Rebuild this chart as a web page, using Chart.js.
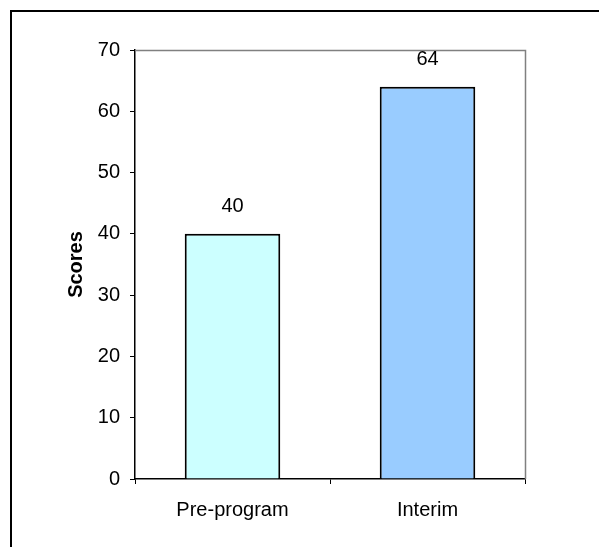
<!DOCTYPE html>
<html>
<head>
<meta charset="utf-8">
<script src="https://cdn.jsdelivr.net/npm/chart.js@4/dist/chart.umd.min.js"></script>
<style>
  body { margin: 0; background: #fff; }
  canvas { display: block; }
</style>
</head>
<body>
<canvas id="scores-chart" width="599" height="547"></canvas>
<script>
// chart data
const categories = ['Pre-program', 'Interim'];
const scores = [40, 64];
const barColors = ['#CCFFFF', '#99CCFF'];
const yTicks = [0, 10, 20, 30, 40, 50, 60, 70];

const FONT = 'Arial, "Liberation Sans", sans-serif';
const FONT_SIZE = 20;

// outer frame + grey plot border on top/right
const framePlugin = {
  id: 'frame',
  beforeDraw(chart) {
    const ctx = chart.ctx;
    ctx.save();
    ctx.fillStyle = '#000';
    ctx.fillRect(10, 10, chart.width - 10, 2);
    ctx.fillRect(10, 10, 2, chart.height - 10);
    ctx.restore();
  },
  beforeDatasetsDraw(chart) {
    const { ctx, chartArea: a } = chart;
    ctx.save();
    ctx.strokeStyle = '#808080';
    ctx.lineWidth = 1.5;
    ctx.beginPath();
    ctx.moveTo(a.left, a.top + 0.5);
    ctx.lineTo(a.right + 0.5, a.top + 0.5);
    ctx.lineTo(a.right + 0.5, a.bottom);
    ctx.stroke();
    ctx.restore();
  }
};

// value labels above bars
const valueLabels = {
  id: 'valueLabels',
  afterDatasetsDraw(chart) {
    const ctx = chart.ctx;
    const meta = chart.getDatasetMeta(0);
    ctx.save();
    ctx.fillStyle = '#000';
    ctx.font = FONT_SIZE + 'px ' + FONT;
    ctx.textAlign = 'center';
    ctx.textBaseline = 'middle';
    meta.data.forEach((bar, i) => {
      ctx.fillText(String(scores[i]), bar.x, bar.y - 27);
    });
    ctx.restore();
  }
};

const ctx = document.getElementById('scores-chart').getContext('2d');
const chart = new Chart(ctx, {
  type: 'bar',
  data: {
    labels: categories,
    datasets: [{
      data: scores,
      backgroundColor: barColors,
      borderColor: '#000',
      borderWidth: 2,
      categoryPercentage: 1,
      barPercentage: 0.49
    }]
  },
  options: {
    responsive: false,
    animation: false,
    layout: { padding: { top: 50, right: 74, left: 0, bottom: 0 } },
    plugins: {
      legend: { display: false },
      tooltip: { enabled: false }
    },
    scales: {
      x: {
        afterFit: (scale) => { scale.height = 68; },
        grid: {
          drawOnChartArea: false,
          drawTicks: true,
          tickLength: 5,
          color: '#000',
          offset: true
        },
        border: { color: '#000', width: 1.5 },
        ticks: {
          color: '#000',
          padding: 14,
          font: { family: FONT, size: FONT_SIZE }
        }
      },
      y: {
        min: 0,
        max: 70,
        afterFit: (scale) => { scale.width = 135; },
        afterBuildTicks: (scale) => { scale.ticks = yTicks.map(v => ({ value: v })); },
        grid: {
          drawOnChartArea: false,
          drawTicks: true,
          tickLength: 5,
          color: '#000'
        },
        border: { color: '#000', width: 1.5 },
        ticks: {
          color: '#000',
          padding: 10,
          font: { family: FONT, size: FONT_SIZE }
        },
        title: {
          display: true,
          text: 'Scores',
          color: '#000',
          padding: { top: 64, bottom: 0 },
          font: { family: FONT, size: FONT_SIZE, weight: 'bold' }
        }
      }
    }
  },
  plugins: [framePlugin, valueLabels]
});
</script>
</body>
</html>
